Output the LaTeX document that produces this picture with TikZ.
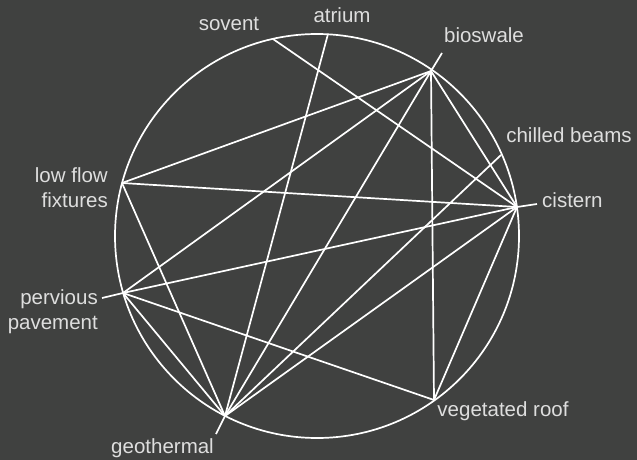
\documentclass[tikz,border=0pt]{standalone}
\usepackage{fontspec}
\setmainfont{Liberation Sans}
\definecolor{bg}{RGB}{64,65,64}
\definecolor{lblc}{RGB}{222,222,222}
\begin{document}
\begin{tikzpicture}[x=1pt,y=-1pt,
  edge/.style={draw=white,line width=1.7pt},
  lbl/.style={text=lblc,font=\fontsize{20.5}{25}\selectfont,inner sep=0pt}]
\fill[bg] (0,0) rectangle (637,460);
\useasboundingbox (0,0) rectangle (637,460);
\draw[edge] (317,236) circle (202pt);
% points on the circle
\coordinate (sov) at (273,39);
\coordinate (atr) at (328,34);
\coordinate (bio) at (431,71);
\coordinate (chb) at (501,155);
\coordinate (cis) at (517,207);
\coordinate (low) at (122,183);
\coordinate (per) at (123,293);
\coordinate (geo) at (225,416);
\coordinate (veg) at (434,400);
% tick ends
\coordinate (bioT) at (442,53);
\coordinate (cisT) at (537,204);
\coordinate (perT) at (102,298);
\coordinate (geoT) at (216,434);
% connectors
\draw[edge] (sov) -- (cis);
\draw[edge] (atr) -- (geo);
\draw[edge] (bio) -- (low);
\draw[edge] (bio) -- (per);
\draw[edge] (bio) -- (geo);
\draw[edge] (bio) -- (veg);
\draw[edge] (bio) -- (cis);
\draw[edge] (low) -- (cis);
\draw[edge] (low) -- (geo);
\draw[edge] (per) -- (cis);
\draw[edge] (per) -- (veg);
\draw[edge] (per) -- (geo);
\draw[edge] (chb) -- (geo);
\draw[edge] (cis) -- (geo);
\draw[edge] (cis) -- (veg);
% ticks
\draw[edge] (bio) -- (bioT);
\draw[edge] (cis) -- (cisT);
\draw[edge] (per) -- (perT);
\draw[edge] (geo) -- (geoT);
% labels
\node[lbl,anchor=base] (Lsov) at (229,31) {sovent};
\node[lbl,anchor=base] (Latr) at (342,23) {atrium};
\node[lbl,anchor=base] (Lbio) at (484,43) {bioswale};
\node[lbl,anchor=base] (Lchb) at (569,142) {chilled beams};
\node[lbl,anchor=base west] (Lcis) at (542,207) {cistern};
\node[lbl,anchor=base east] (Llow1) at (108,182) {low flow};
\node[lbl,anchor=base east] (Llow2) at (108,207) {fixtures};
\node[lbl,anchor=base east] (Lper1) at (98,304) {pervious};
\node[lbl,anchor=base east] (Lper2) at (98,329) {pavement};
\node[lbl,anchor=base east] (Lgeo) at (214,453) {geothermal};
\node[lbl,anchor=base] (Lveg) at (503,416) {vegetated roof};
\end{tikzpicture}
\end{document}
